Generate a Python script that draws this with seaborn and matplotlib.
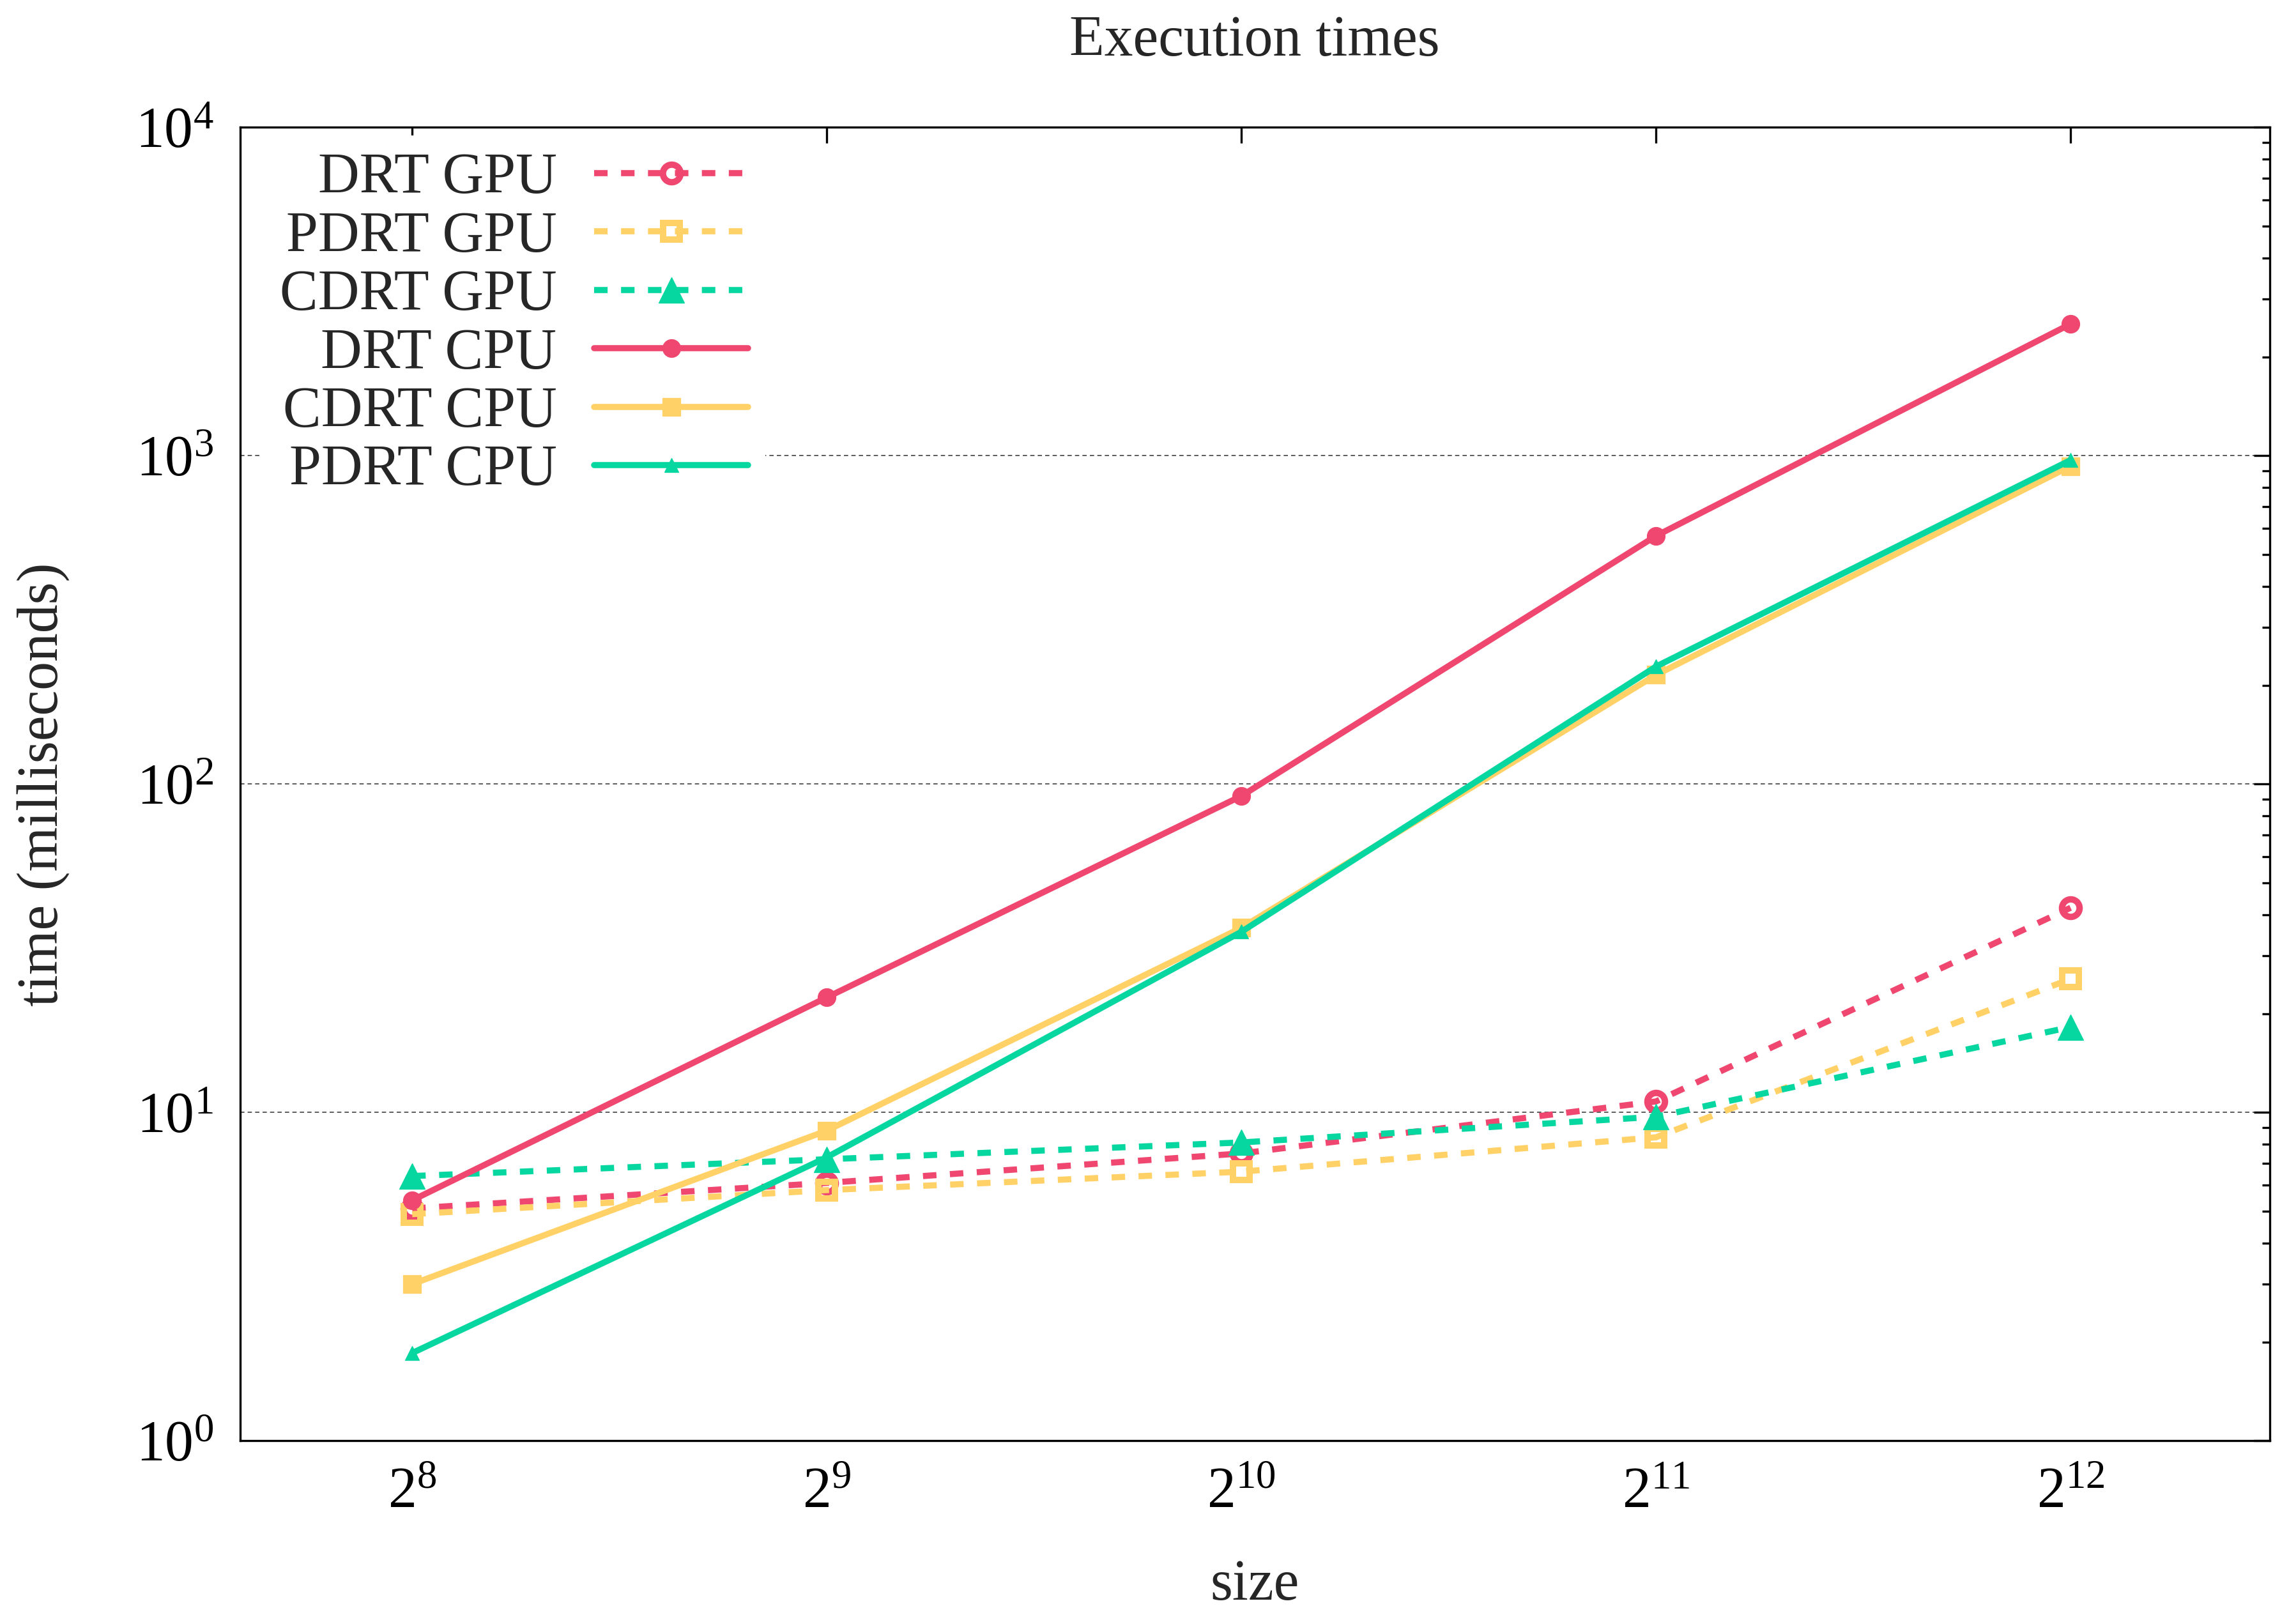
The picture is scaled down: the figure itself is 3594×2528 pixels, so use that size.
import matplotlib
matplotlib.use('Agg')
import matplotlib.pyplot as plt
import seaborn as sns
from matplotlib.ticker import FixedLocator, LogFormatterMathtext, NullLocator, LogLocator

# problem sizes (x axis, log base 2)
sizes = [256, 512, 1024, 2048, 4096]

# execution times in milliseconds
drt_gpu = [5.1, 6.1, 7.5, 10.8, 42.0]
pdrt_gpu = [4.9, 5.8, 6.6, 8.4, 25.5]
cdrt_gpu = [6.4, 7.2, 8.1, 9.7, 18.2]
drt_cpu = [5.4, 22.4, 92.0, 570.0, 2520.0]
cdrt_cpu = [3.0, 8.8, 36.5, 215.0, 930.0]
pdrt_cpu = [1.85, 7.3, 35.5, 228.0, 970.0]

labels = ['DRT GPU', 'PDRT GPU', 'CDRT GPU', 'DRT CPU', 'CDRT CPU', 'PDRT CPU']

PINK = '#ef476f'
YELLOW = '#ffd166'
GREEN = '#06d6a0'

sns.set_theme(style='white')
plt.rcParams['font.family'] = ['Liberation Serif', 'DejaVu Serif']
plt.rcParams['mathtext.fontset'] = 'custom'
plt.rcParams['mathtext.rm'] = 'Liberation Serif'
plt.rcParams['mathtext.it'] = 'Liberation Serif:italic'
plt.rcParams['mathtext.bf'] = 'Liberation Serif:bold'

FS = 21.5
DASH = (0, (2.2, 2.2))

fig, ax = plt.subplots(figsize=(11.98, 8.4267), dpi=300)
fig.subplots_adjust(left=0.1046, right=0.9885, bottom=0.1079, top=0.9211)

series = [
    (drt_gpu, PINK, 'o', DASH, 6.6, False),
    (pdrt_gpu, YELLOW, 's', DASH, 6.4, False),
    (cdrt_gpu, GREEN, '^', DASH, 9.5, True),
    (drt_cpu, PINK, 'o', '-', 6.7, True),
    (cdrt_cpu, YELLOW, 's', '-', 6.6, True),
    (pdrt_cpu, GREEN, '^', '-', 5.5, True),
]

for (vals, color, marker, ls, ms, filled), label in zip(series, labels):
    sns.lineplot(
        x=sizes, y=vals, ax=ax, label=label, estimator=None,
        color=color, linestyle=ls, linewidth=2.3,
        marker=marker, markersize=ms,
        markerfacecolor=color if filled else 'none',
        markeredgecolor=color,
        markeredgewidth=0.3 if filled else 2.4,
    )

ax.set_xscale('log', base=2)
ax.set_yscale('log')
ax.set_xlim(2 ** 7.585, 2 ** 12.48)
ax.set_ylim(1, 1e4)

ax.xaxis.set_major_locator(FixedLocator(sizes))
ax.xaxis.set_major_formatter(LogFormatterMathtext(base=2))
ax.xaxis.set_minor_locator(NullLocator())
ax.yaxis.set_major_locator(LogLocator(base=10))
ax.yaxis.set_minor_locator(LogLocator(base=10, subs=range(2, 10)))

ax.tick_params(which='both', direction='in', top=True, right=True,
               colors='black', labelsize=FS)
ax.tick_params(which='major', length=6, width=0.8, pad=10)
ax.tick_params(which='minor', length=3, width=0.8)

for sp in ax.spines.values():
    sp.set_color('black')
    sp.set_linewidth(0.8)

ax.yaxis.grid(True, which='major', color='0.25', linewidth=0.4,
              linestyle=(0, (4, 3)))
ax.xaxis.grid(False)

ax.set_title('Execution times', fontsize=FS, pad=27)
ax.set_xlabel('size', fontsize=FS)
ax.set_ylabel('time (milliseconds)', fontsize=FS)
ax.xaxis.set_label_coords(0.5, -0.09)
ax.yaxis.set_label_coords(-0.084, 0.5)

handles, labs = ax.get_legend_handles_labels()
leg = ax.legend(handles, labs, loc='upper left', bbox_to_anchor=(0.011, 0.994),
                markerfirst=False, fontsize=FS, handlelength=2.7,
                handletextpad=0.65, labelspacing=0.1, borderpad=0.3,
                borderaxespad=0, numpoints=1, frameon=True, fancybox=False,
                framealpha=1, facecolor='white', edgecolor='none')

fig.savefig('out.png', dpi=300)
